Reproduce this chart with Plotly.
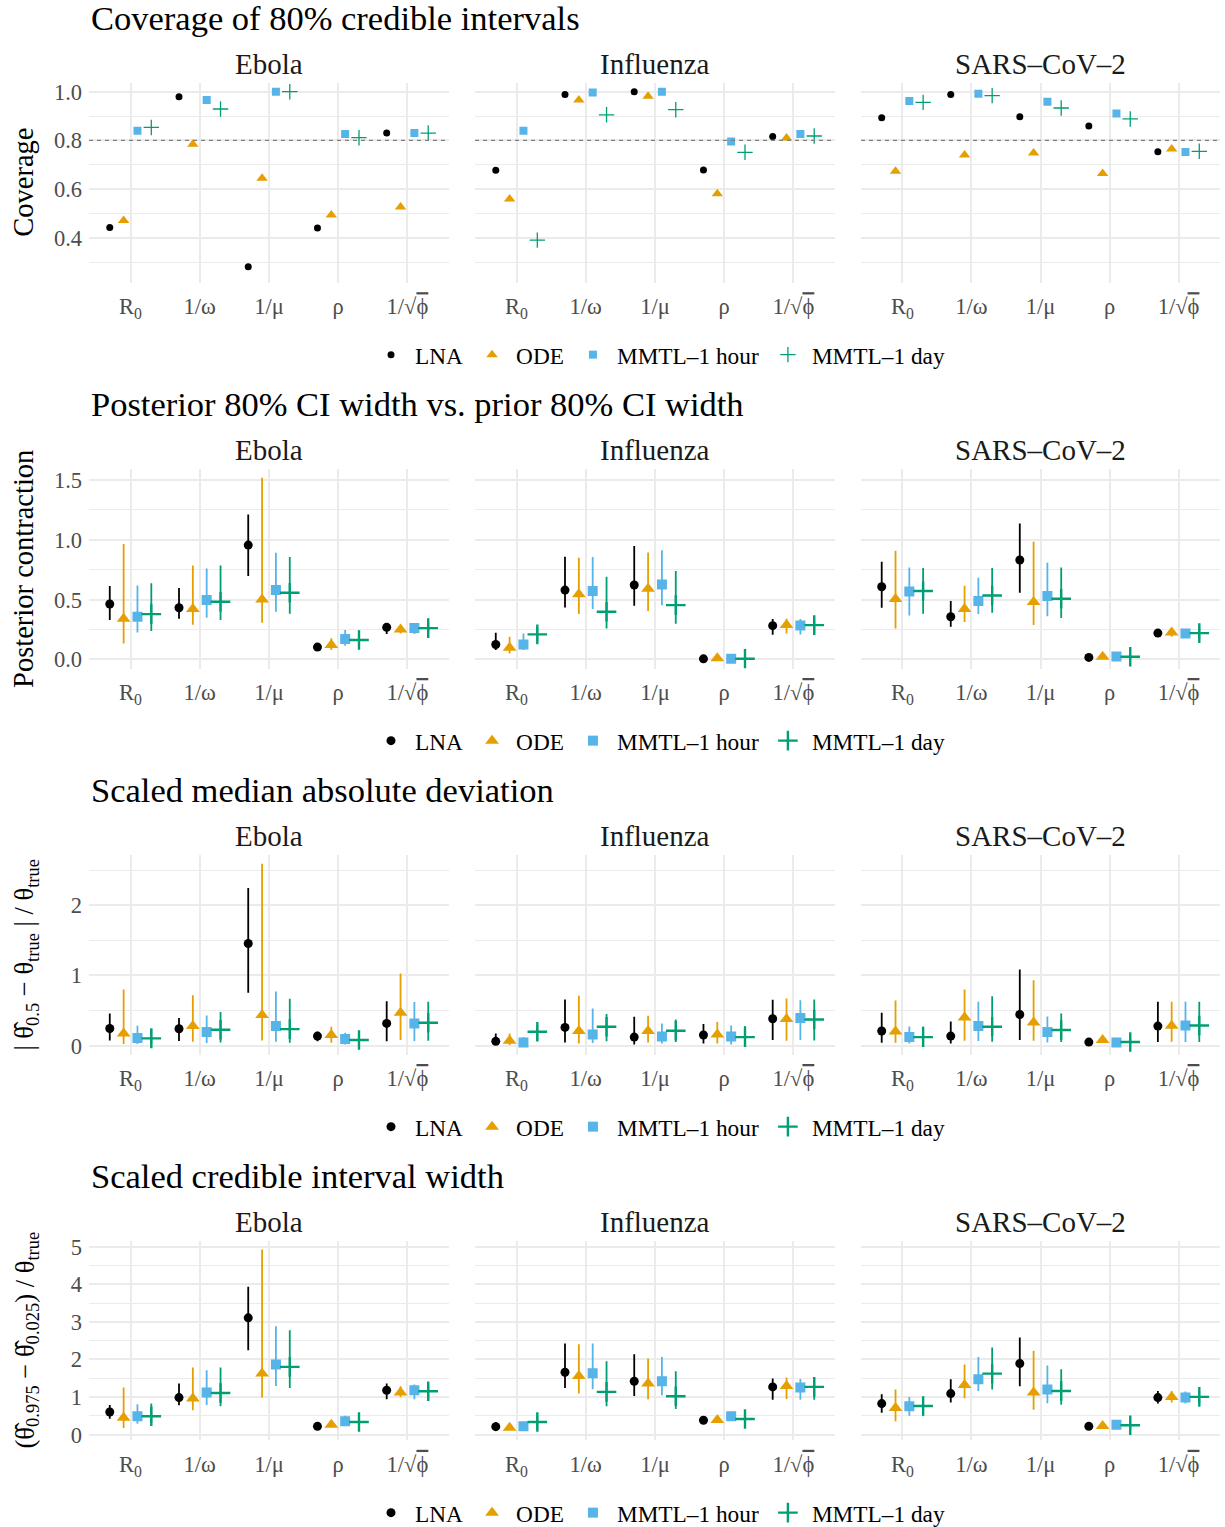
import plotly.graph_objects as go

# ---------------- data ----------------
methods = ["LNA", "ODE", "MMTL–1 hour", "MMTL–1 day"]
params = ["R<sub>0</sub>", "1/ω", "1/μ", "ρ",
          "1/√<span style='text-decoration:overline'>\u03d5</span>"]
diseases = ["Ebola", "Influenza", "SARS–CoV–2"]
row_titles = ["Coverage of 80% credible intervals",
              "Posterior 80% CI width vs. prior 80% CI width",
              "Scaled median absolute deviation",
              "Scaled credible interval width"]
y_titles = ["Coverage", "Posterior contraction",
            "| θ\u0302<sub>0.5</sub> − θ<sub>true</sub> | / θ<sub>true</sub>",
            "(θ\u0302<sub>0.975</sub> − θ\u0302<sub>0.025</sub>) / θ<sub>true</sub>"]

# rows: methods (LNA, ODE, MMTL-1 hour, MMTL-1 day); columns: params
cov_ebola = [[0.442, 0.979, 0.281, 0.440, 0.830],
             [0.471, 0.784, 0.644, 0.493, 0.526],
             [0.840, 0.966, 1.000, 0.826, 0.830],
             [0.853, 0.929, 1.000, 0.811, 0.830]]
cov_flu = [[0.677, 0.989, 1.000, 0.678, 0.816],
           [0.559, 0.966, 0.981, 0.581, 0.810],
           [0.840, 0.997, 1.000, 0.795, 0.826],
           [0.390, 0.905, 0.926, 0.751, 0.818]]
cov_sars = [[0.893, 0.989, 0.897, 0.859, 0.753],
            [0.673, 0.740, 0.748, 0.664, 0.764],
            [0.962, 0.992, 0.959, 0.910, 0.752],
            [0.956, 0.984, 0.933, 0.888, 0.755]]

pc_ebola_mid = [[0.463, 0.432, 0.956, 0.103, 0.268],
                [0.340, 0.421, 0.502, 0.120, 0.251],
                [0.357, 0.496, 0.580, 0.170, 0.262],
                [0.379, 0.482, 0.558, 0.162, 0.262]]
pc_ebola_lo = [[0.329, 0.340, 0.697, 0.090, 0.212],
               [0.134, 0.290, 0.307, 0.078, 0.217],
               [0.226, 0.348, 0.399, 0.114, 0.212],
               [0.237, 0.329, 0.382, 0.109, 0.229]]
pc_ebola_hi = [[0.613, 0.597, 1.213, 0.115, 0.296],
               [0.965, 0.786, 1.519, 0.178, 0.273],
               [0.619, 0.761, 0.892, 0.245, 0.296],
               [0.636, 0.786, 0.856, 0.240, 0.307]]
pc_flu_mid = [[0.125, 0.580, 0.622, 0.005, 0.282],
              [0.098, 0.544, 0.591, 0.010, 0.287],
              [0.125, 0.572, 0.627, 0.005, 0.284],
              [0.209, 0.399, 0.454, 0.005, 0.287]]
pc_flu_lo = [[0.078, 0.435, 0.449, 0.000, 0.206],
             [0.050, 0.379, 0.404, 0.000, 0.217],
             [0.078, 0.421, 0.454, 0.000, 0.209],
             [0.148, 0.259, 0.298, 0.000, 0.212]]
pc_flu_hi = [[0.223, 0.859, 0.948, 0.012, 0.337],
             [0.190, 0.850, 0.895, 0.020, 0.340],
             [0.217, 0.856, 0.914, 0.015, 0.337],
             [0.268, 0.691, 0.739, 0.015, 0.340]]
pc_sars_mid = [[0.608, 0.357, 0.831, 0.017, 0.220],
               [0.505, 0.421, 0.480, 0.022, 0.226],
               [0.569, 0.488, 0.530, 0.025, 0.217],
               [0.572, 0.535, 0.507, 0.022, 0.220]]
pc_sars_lo = [[0.432, 0.273, 0.558, 0.010, 0.195],
              [0.259, 0.312, 0.287, 0.012, 0.190],
              [0.368, 0.379, 0.362, 0.015, 0.184],
              [0.382, 0.390, 0.346, 0.012, 0.167]]
pc_sars_hi = [[0.817, 0.488, 1.137, 0.025, 0.251],
              [0.909, 0.616, 0.984, 0.032, 0.260],
              [0.769, 0.683, 0.808, 0.035, 0.254],
              [0.764, 0.764, 0.769, 0.032, 0.273]]

mad_ebola_mid = [[0.246, 0.242, 1.455, 0.137, 0.318],
                 [0.175, 0.280, 0.436, 0.152, 0.469],
                 [0.109, 0.194, 0.280, 0.095, 0.318],
                 [0.104, 0.227, 0.237, 0.081, 0.327]]
mad_ebola_lo = [[0.076, 0.066, 0.754, 0.062, 0.062],
                [0.024, 0.057, 0.076, 0.043, 0.081],
                [0.024, 0.038, 0.057, 0.019, 0.066],
                [0.019, 0.047, 0.043, 0.000, 0.071]]
mad_ebola_hi = [[0.460, 0.393, 2.246, 0.199, 0.635],
                [0.801, 0.720, 2.592, 0.270, 1.028],
                [0.284, 0.431, 0.773, 0.185, 0.621],
                [0.246, 0.479, 0.668, 0.199, 0.626]]
mad_flu_mid = [[0.062, 0.261, 0.123, 0.152, 0.384],
               [0.071, 0.209, 0.209, 0.161, 0.379],
               [0.047, 0.161, 0.133, 0.133, 0.393],
               [0.199, 0.270, 0.213, 0.123, 0.374]]
mad_flu_lo = [[0.014, 0.047, 0.019, 0.033, 0.081],
              [0.010, 0.033, 0.047, 0.033, 0.071],
              [0.000, 0.038, 0.033, 0.019, 0.081],
              [0.071, 0.062, 0.052, 0.019, 0.076]]
mad_flu_hi = [[0.175, 0.659, 0.412, 0.308, 0.654],
              [0.175, 0.711, 0.427, 0.336, 0.673],
              [0.123, 0.531, 0.318, 0.289, 0.649],
              [0.284, 0.450, 0.374, 0.280, 0.659]]
mad_sars_mid = [[0.209, 0.137, 0.445, 0.052, 0.280],
                [0.204, 0.403, 0.332, 0.081, 0.284],
                [0.123, 0.280, 0.194, 0.047, 0.289],
                [0.123, 0.270, 0.223, 0.052, 0.289]]
mad_sars_lo = [[0.043, 0.033, 0.081, 0.025, 0.052],
               [0.043, 0.071, 0.071, 0.060, 0.057],
               [0.033, 0.066, 0.047, 0.019, 0.052],
               [0.019, 0.057, 0.052, 0.025, 0.052]]
mad_sars_hi = [[0.469, 0.346, 1.085, 0.080, 0.626],
               [0.645, 0.801, 0.934, 0.100, 0.626],
               [0.275, 0.626, 0.417, 0.114, 0.626],
               [0.275, 0.706, 0.460, 0.114, 0.626]]

ciw_ebola_mid = [[0.604, 0.986, 3.108, 0.222, 1.181],
                 [0.453, 0.959, 1.625, 0.266, 1.119],
                 [0.488, 1.119, 1.865, 0.355, 1.181],
                 [0.488, 1.110, 1.803, 0.337, 1.155]]
ciw_ebola_lo = [[0.426, 0.782, 2.247, 0.190, 0.941],
                [0.178, 0.648, 0.986, 0.200, 1.004],
                [0.293, 0.790, 1.297, 0.249, 0.941],
                [0.320, 0.755, 1.243, 0.178, 0.941]]
ciw_ebola_hi = [[0.790, 1.359, 3.934, 0.250, 1.359],
                [1.252, 1.785, 4.929, 0.355, 1.288],
                [0.808, 1.714, 2.886, 0.506, 1.332],
                [0.826, 1.785, 2.780, 0.488, 1.332]]
ciw_flu_mid = [[0.213, 1.661, 1.421, 0.382, 1.270],
               [0.186, 1.563, 1.359, 0.391, 1.297],
               [0.222, 1.634, 1.421, 0.488, 1.252],
               [0.337, 1.137, 1.021, 0.417, 1.270]]
ciw_flu_lo = [[0.115, 1.243, 1.030, 0.340, 0.932],
              [0.120, 1.092, 0.941, 0.340, 0.950],
              [0.115, 1.208, 1.048, 0.390, 0.932],
              [0.142, 0.755, 0.684, 0.249, 0.932]]
ciw_flu_hi = [[0.337, 2.425, 2.140, 0.420, 1.492],
              [0.293, 2.407, 2.025, 0.430, 1.519],
              [0.337, 2.425, 2.069, 0.604, 1.483],
              [0.497, 1.954, 1.687, 0.542, 1.510]]
ciw_sars_mid = [[0.826, 1.092, 1.892, 0.222, 0.986],
                [0.710, 1.323, 1.119, 0.231, 1.004],
                [0.755, 1.474, 1.199, 0.266, 0.986],
                [0.764, 1.625, 1.163, 0.249, 1.004]]
ciw_sars_lo = [[0.586, 0.853, 1.288, 0.190, 0.826],
               [0.355, 0.968, 0.666, 0.200, 0.853],
               [0.506, 1.163, 0.835, 0.200, 0.826],
               [0.506, 1.199, 0.799, 0.115, 0.826]]
ciw_sars_hi = [[1.075, 1.474, 2.584, 0.250, 1.163],
               [1.199, 1.865, 2.229, 0.270, 1.163],
               [1.004, 2.069, 1.838, 0.382, 1.146],
               [1.004, 2.318, 1.741, 0.409, 1.146]]

# ---------------- styling / layout ----------------
W, H = 1225, 1527
FONT = "Liberation Serif"
colors = ["#000000", "#E69F00", "#56B4E9", "#009E73"]
symbols = ["circle", "triangle-up", "square", "cross-thin"]
offsets = [-0.3, -0.1, 0.1, 0.3]

def X(px):
    return px / W

def Y(py):
    return 1 - py / H

x_dom = [(89, 449), (475, 835), (861, 1220)]
row_top = [82.7, 469.3, 854.7, 1240.7]
row_bot = [282.7, 668.5, 1054.5, 1440.3]
title_y = [18, 404, 790, 1176]
strip_y = [64, 450, 836, 1222]
legend_y = [355, 741, 1127, 1513]
y_ranges = [[0.215, 1.037], [-0.076, 1.59], [-0.125, 2.72], [-0.15, 5.16]]
y_dtick = [0.2, 0.5, 1, 1]
y_minor = [0.1, 0.25, 0.5, 0.5]
y_fmt = [".1f", ".1f", "d", "d"]

rows_data = [
    [(cov_ebola, None, None), (cov_flu, None, None), (cov_sars, None, None)],
    [(pc_ebola_mid, pc_ebola_lo, pc_ebola_hi), (pc_flu_mid, pc_flu_lo, pc_flu_hi),
     (pc_sars_mid, pc_sars_lo, pc_sars_hi)],
    [(mad_ebola_mid, mad_ebola_lo, mad_ebola_hi), (mad_flu_mid, mad_flu_lo, mad_flu_hi),
     (mad_sars_mid, mad_sars_lo, mad_sars_hi)],
    [(ciw_ebola_mid, ciw_ebola_lo, ciw_ebola_hi), (ciw_flu_mid, ciw_flu_lo, ciw_flu_hi),
     (ciw_sars_mid, ciw_sars_lo, ciw_sars_hi)],
]

fig = go.Figure()
layout = {}
annotations = []
shapes = []

for r in range(4):
    for c in range(3):
        k = r * 3 + c + 1
        xname = "x" if k == 1 else f"x{k}"
        yname = "y" if k == 1 else f"y{k}"
        mid, lo, hi = rows_data[r][c]
        for m in range(4):
            xs = [i + 1 + offsets[m] for i in range(5)]
            if r == 0:
                size = [7, 10, 8, 11][m]
                lw = 1.3 if m == 3 else 0
            else:
                size = [9, 12, 10, 14][m]
                lw = 2.4 if m == 3 else 0
            marker = dict(symbol=symbols[m], size=size, color=colors[m],
                          line=dict(color=colors[m], width=lw))
            err = None
            if lo is not None:
                err = dict(type="data", symmetric=False,
                           array=[hi[m][i] - mid[m][i] for i in range(5)],
                           arrayminus=[mid[m][i] - lo[m][i] for i in range(5)],
                           width=0, thickness=1.8, color=colors[m])
            fig.add_trace(go.Scatter(
                x=xs, y=mid[m], mode="markers", marker=marker, error_y=err,
                name=methods[m], legendgroup=f"r{r}m{m}",
                showlegend=(c == 0),
                legend="legend" if r == 0 else f"legend{r + 1}",
                xaxis=xname, yaxis=yname, hoverinfo="x+y"))

        layout["xaxis" if k == 1 else f"xaxis{k}"] = dict(
            domain=[X(x_dom[c][0]), X(x_dom[c][1])], anchor=yname,
            range=[0.4, 5.6], tickmode="array", tickvals=[1, 2, 3, 4, 5],
            ticktext=params, showgrid=True, gridcolor="#EBEBEB", gridwidth=1.6,
            zeroline=False, showline=False, ticks="", automargin=False,
            tickfont=dict(size=22.5, color="#4D4D4D", family=FONT),
            ticklabelstandoff=8)
        layout["yaxis" if k == 1 else f"yaxis{k}"] = dict(
            domain=[Y(row_bot[r]), Y(row_top[r])], anchor=xname,
            range=y_ranges[r], tick0=0, dtick=y_dtick[r], tickformat=y_fmt[r],
            showticklabels=(c == 0), showgrid=True, gridcolor="#EBEBEB",
            gridwidth=1.6, zeroline=False, showline=False, ticks="",
            automargin=False,
            minor=dict(tick0=0, dtick=y_minor[r], showgrid=True,
                       gridcolor="#EBEBEB", gridwidth=0.9),
            tickfont=dict(size=22.5, color="#4D4D4D", family=FONT),
            ticklabelstandoff=6)

        annotations.append(dict(
            text=diseases[c], x=X((x_dom[c][0] + x_dom[c][1]) / 2), y=Y(strip_y[r]),
            xref="paper", yref="paper", xanchor="center", yanchor="middle",
            showarrow=False, font=dict(size=29, color="#1A1A1A", family=FONT)))
        if r == 0:
            shapes.append(dict(type="line", xref=f"{xname} domain", yref=yname,
                               x0=0, x1=1, y0=0.8, y1=0.8,
                               line=dict(color="#7F7F7F", width=1.3, dash="4px,4px")))

    annotations.append(dict(
        text=row_titles[r], x=X(89), y=Y(title_y[r]), xref="paper", yref="paper",
        xanchor="left", yanchor="middle", showarrow=False,
        font=dict(size=34.5, color="#000000", family=FONT)))
    annotations.append(dict(
        text=y_titles[r], x=X(24 if r < 2 else 26),
        y=Y((row_top[r] + row_bot[r]) / 2), xref="paper", yref="paper",
        xanchor="center", yanchor="middle", textangle=-90, showarrow=False,
        font=dict(size=28.5 if r < 2 else 26.5, color="#000000", family=FONT)))

    lname = "legend" if r == 0 else f"legend{r + 1}"
    layout[lname] = dict(orientation="h", x=X(367), y=Y(legend_y[r]),
                         xanchor="left", yanchor="middle", itemwidth=38,
                         font=dict(size=23.3, color="#000000", family=FONT),
                         bgcolor="rgba(0,0,0,0)", tracegroupgap=0)

fig.update_layout(
    width=W, height=H,
    margin=dict(l=0, r=0, t=0, b=0, autoexpand=False),
    paper_bgcolor="white", plot_bgcolor="white",
    font=dict(family=FONT, size=22.5, color="#000000"),
    annotations=annotations, shapes=shapes, **layout)

fig.write_html("out.html", config={"displayModeBar": False},
               post_script="document.body.style.margin='0px';")
